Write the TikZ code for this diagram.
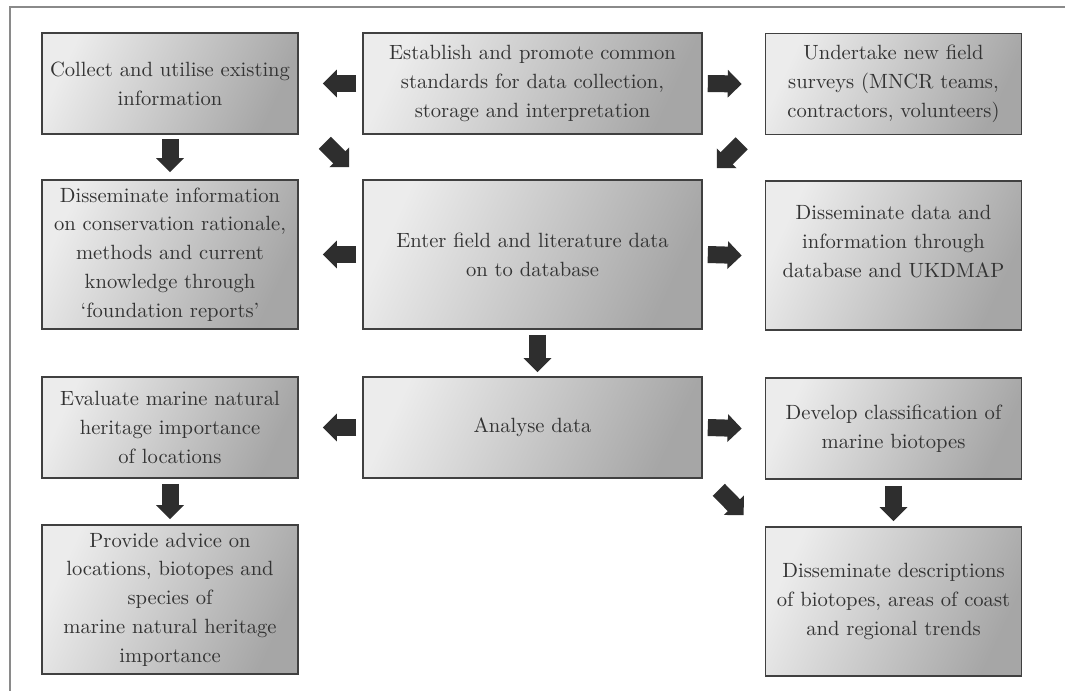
\documentclass[tikz,border=0pt]{standalone}
\usetikzlibrary{arrows.meta,calc}
\definecolor{arrowgray}{HTML}{2E2E2E}
\definecolor{textgray}{HTML}{333333}
\definecolor{framegray}{HTML}{8A8A8A}
\begin{document}
\begin{tikzpicture}[x=0.5pt,y=-0.5pt,
  box/.style={draw=black!75, line width=0.8pt, inner sep=0pt, align=center,
    text=textgray, font=\fontsize{10.3}{14.4}\selectfont,
    left color=gray!15, middle color=gray!4, right color=gray!70, shading angle=65},
  rowsmall/.style={minimum height=50.5pt},
  rowbig/.style={minimum height=74.5pt},
  colside/.style={minimum width=128pt},
  colmid/.style={minimum width=169.5pt},
  barrow/.style={draw=arrowgray, line width=8.5pt,
    -{Triangle[width=13.5pt,length=7pt]}}]
\useasboundingbox (0,0) rectangle (1065,691);
\fill[white] (0,0) rectangle (1065,691);
\draw[framegray, line width=0.8pt] (1065,7) -- (10,7) -- (10,691);

\node[box,colside,rowsmall] (l1) at (170,83.5) {Collect and utilise existing\\information};
\node[box,colmid,rowsmall] (c1) at (532.5,83.5) {Establish and promote common\\standards for data collection,\\storage and interpretation};
\node[box,colside,rowsmall] (r1) at (893.5,84) {Undertake new field\\surveys (MNCR teams,\\contractors, volunteers)};

\node[box,colside,rowbig] (l2) at (170,254.5) {Disseminate information\\on conservation rationale,\\methods and current\\knowledge through\\`foundation reports'};
\node[box,colmid,rowbig] (c2) at (532.5,254.5) {Enter field and literature data\\on to database};
\node[box,colside,rowbig] (r2) at (893.5,255.5) {Disseminate data and\\information through\\database and UKDMAP\\[0pt]\mbox{}};

\node[box,colside,rowsmall] (l3) at (170,427.5) {Evaluate marine natural\\heritage importance\\of locations};
\node[box,colmid,rowsmall] (c3) at (532.5,427.5) {Analyse data};
\node[box,colside,rowsmall] (r3) at (893.5,428.5) {Develop classification of\\marine biotopes};

\node[box,colside,rowbig] (l4) at (170,599.5) {Provide advice on\\locations, biotopes and\\species of\\marine natural heritage\\importance};
\node[box,colside,rowbig] (r4) at (893.5,601.5) {Disseminate descriptions\\of biotopes, areas of coast\\and regional trends};

% horizontal arrows
\draw[barrow] ($(c1.west)+(-6,0)$) -- ($(l1.east)+(24,0)$);
\draw[barrow] ($(c1.east)+(5,0)$) -- ($(r1.west)+(-23,0)$);
\draw[barrow] ($(c2.west)+(-6,0)$) -- ($(l2.east)+(24,0)$);
\draw[barrow] ($(c2.east)+(5,0)$) -- ($(r2.west)+(-23,0)$);
\draw[barrow] ($(c3.west)+(-6,0)$) -- ($(l3.east)+(24,0)$);
\draw[barrow] ($(c3.east)+(5,0)$) -- ($(r3.west)+(-23,0)$);
% vertical arrows
\draw[barrow] ($(l1.south)+(0,4)$) -- ($(l2.north)+(0,-7)$);
\draw[barrow] ($(c2.south)+(5,5)$) -- ($(c3.north)+(5,-4)$);
\draw[barrow] ($(l3.south)+(0,5)$) -- ($(l4.north)+(0,-5)$);
\draw[barrow] ($(r3.south)+(0,6)$) -- ($(r4.north)+(0,-5)$);
% diagonal arrows
\draw[barrow] ($(l1.south east)+(26,8)$) -- ($(c2.north west)+(-13,-12)$);
\draw[barrow] ($(r1.south west)+(-23,8)$) -- ($(c2.north east)+(14,-11)$);
\draw[barrow] ($(c3.south east)+(16,11)$) -- ($(r4.north west)+(-21,-11)$);
\end{tikzpicture}
\end{document}
